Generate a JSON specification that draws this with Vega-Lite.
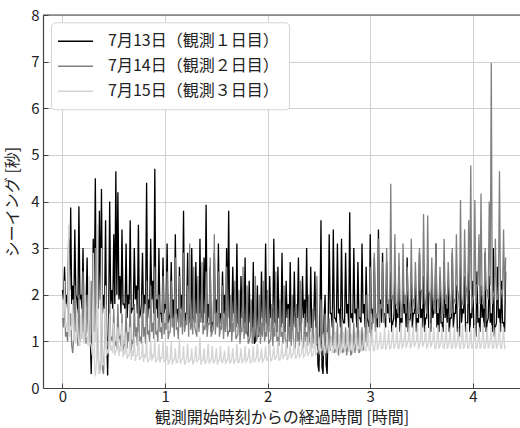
{
"$schema":"https://vega.github.io/schema/vega-lite/v6.json",
"width":477,"height":373,
"autosize":{"type":"none"},
"padding":{"left":43,"top":15,"right":0,"bottom":40},
"background":"white",
"config":{"view":{"stroke":null},"font":"Noto Sans CJK JP",
"axis":{"gridColor":"#d0d0d0","gridWidth":1,"domainColor":"#444","domainWidth":1.2,"tickColor":"#444","tickSize":-5,"labelFontSize":15,"labelColor":"#222","titleFontSize":16,"titleFontWeight":"normal","titleColor":"#222","labelFont":"Noto Sans CJK JP","titleFont":"Noto Sans CJK JP"}},
"data":{"values":[
{"t":0.00,"a":2.1,"b":1.5,"c":1.8},{"t":0.02,"a":2.6,"b":2.0,"c":2.3},{"t":0.04,"a":2.0,"b":1.2,"c":1.4},{"t":0.06,"a":3.2,"b":2.4,"c":3.5},{"t":0.08,"a":3.87,"b":1.6,"c":1.3},
{"t":0.10,"a":2.2,"b":0.75,"c":1.9},{"t":0.12,"a":3.4,"b":2.2,"c":1.1},{"t":0.14,"a":1.9,"b":1.3,"c":1.7},{"t":0.16,"a":3.9,"b":2.0,"c":1.0},{"t":0.18,"a":2.0,"b":1.1,"c":1.6},
{"t":0.20,"a":3.0,"b":2.5,"c":1.2},{"t":0.22,"a":1.7,"b":1.4,"c":2.0},{"t":0.24,"a":2.8,"b":2.0,"c":1.1},{"t":0.26,"a":1.5,"b":1.2,"c":2.4},{"t":0.28,"a":0.3,"b":2.3,"c":0.9},
{"t":0.30,"a":3.2,"b":1.5,"c":2.9},{"t":0.32,"a":4.5,"b":3.0,"c":0.25},{"t":0.34,"a":2.2,"b":1.3,"c":3.5},{"t":0.36,"a":3.8,"b":0.3,"c":0.3},{"t":0.38,"a":4.27,"b":2.4,"c":3.0},
{"t":0.40,"a":2.0,"b":0.3,"c":0.5},{"t":0.42,"a":3.6,"b":1.8,"c":2.2},{"t":0.44,"a":0.27,"b":1.0,"c":0.8},{"t":0.46,"a":4.0,"b":1.9,"c":1.6},{"t":0.48,"a":2.1,"b":1.1,"c":0.9},
{"t":0.50,"a":3.3,"b":1.7,"c":1.4},{"t":0.52,"a":4.65,"b":1.0,"c":0.8},{"t":0.54,"a":4.2,"b":1.8,"c":1.3},{"t":0.56,"a":2.4,"b":1.1,"c":0.9},{"t":0.58,"a":3.4,"b":1.6,"c":1.4},
{"t":0.60,"a":1.8,"b":0.9,"c":0.8},{"t":0.62,"a":3.1,"b":1.7,"c":1.2},{"t":0.64,"a":2.0,"b":1.2,"c":0.7},{"t":0.66,"a":3.6,"b":1.9,"c":1.3},{"t":0.68,"a":1.7,"b":1.0,"c":0.8},
{"t":0.70,"a":3.0,"b":1.8,"c":1.1},{"t":0.72,"a":2.2,"b":1.3,"c":0.7},{"t":0.74,"a":3.5,"b":2.1,"c":1.2},{"t":0.76,"a":1.6,"b":1.1,"c":0.65},{"t":0.78,"a":2.9,"b":2.0,"c":1.0},
{"t":0.80,"a":2.0,"b":1.3,"c":0.7},{"t":0.82,"a":4.4,"b":2.3,"c":1.1},{"t":0.84,"a":1.9,"b":1.2,"c":0.6},{"t":0.86,"a":3.2,"b":2.2,"c":1.0},{"t":0.88,"a":2.3,"b":1.4,"c":0.7},
{"t":0.90,"a":4.7,"b":2.6,"c":1.05},{"t":0.92,"a":1.9,"b":1.2,"c":0.6},{"t":0.94,"a":3.0,"b":2.0,"c":0.95},{"t":0.96,"a":1.6,"b":1.3,"c":0.65},{"t":0.98,"a":2.8,"b":2.4,"c":1.0},
{"t":1.00,"a":1.8,"b":1.4,"c":0.6},{"t":1.02,"a":3.1,"b":2.5,"c":0.9},{"t":1.04,"a":1.5,"b":1.2,"c":0.55},{"t":1.06,"a":2.7,"b":2.3,"c":1.0},{"t":1.08,"a":1.9,"b":1.5,"c":0.6},
{"t":1.10,"a":3.3,"b":2.8,"c":0.85},{"t":1.12,"a":1.7,"b":1.3,"c":0.55},{"t":1.14,"a":2.6,"b":2.4,"c":1.05},{"t":1.16,"a":2.0,"b":1.6,"c":0.6},{"t":1.18,"a":3.8,"b":2.9,"c":0.9},
{"t":1.20,"a":1.6,"b":1.4,"c":0.55},{"t":1.22,"a":2.9,"b":2.2,"c":0.95},{"t":1.24,"a":1.8,"b":3.1,"c":0.6},{"t":1.26,"a":3.0,"b":1.5,"c":0.85},{"t":1.28,"a":1.5,"b":2.6,"c":0.55},
{"t":1.30,"a":2.7,"b":1.2,"c":0.9},{"t":1.32,"a":2.0,"b":2.4,"c":0.6},{"t":1.34,"a":3.2,"b":1.6,"c":1.1},{"t":1.36,"a":1.7,"b":2.7,"c":0.6},{"t":1.38,"a":2.8,"b":1.3,"c":0.85},
{"t":1.40,"a":3.93,"b":2.5,"c":0.55},{"t":1.42,"a":1.8,"b":1.4,"c":0.95},{"t":1.44,"a":2.6,"b":2.8,"c":0.6},{"t":1.46,"a":1.4,"b":1.2,"c":0.9},{"t":1.48,"a":2.9,"b":3.3,"c":0.55},
{"t":1.50,"a":1.9,"b":1.6,"c":0.85},{"t":1.52,"a":3.1,"b":2.5,"c":0.6},{"t":1.54,"a":1.6,"b":1.3,"c":0.9},{"t":1.56,"a":2.5,"b":2.2,"c":0.55},{"t":1.58,"a":2.0,"b":1.5,"c":0.8},
{"t":1.60,"a":3.0,"b":2.6,"c":0.6},{"t":1.62,"a":3.8,"b":1.2,"c":0.9},{"t":1.64,"a":1.5,"b":2.0,"c":0.55},{"t":1.66,"a":2.6,"b":1.4,"c":0.85},{"t":1.68,"a":1.8,"b":2.3,"c":0.6},
{"t":1.70,"a":3.1,"b":1.1,"c":0.95},{"t":1.72,"a":1.4,"b":2.1,"c":0.55},{"t":1.74,"a":2.4,"b":1.3,"c":0.85},{"t":1.76,"a":1.9,"b":2.6,"c":0.6},{"t":1.78,"a":2.8,"b":1.4,"c":0.9},
{"t":1.80,"a":1.2,"b":2.2,"c":0.6},{"t":1.82,"a":2.3,"b":1.0,"c":0.85},{"t":1.84,"a":1.5,"b":1.9,"c":0.55},{"t":1.86,"a":2.7,"b":1.3,"c":0.9},{"t":1.88,"a":1.0,"b":2.4,"c":0.6},
{"t":1.90,"a":2.2,"b":1.1,"c":0.95},{"t":1.92,"a":1.3,"b":2.0,"c":0.6},{"t":1.94,"a":2.5,"b":1.4,"c":0.85},{"t":1.96,"a":1.6,"b":2.3,"c":0.6},{"t":1.98,"a":3.1,"b":1.2,"c":0.9},
{"t":2.00,"a":1.4,"b":2.1,"c":0.65},{"t":2.02,"a":2.4,"b":1.0,"c":0.95},{"t":2.04,"a":1.7,"b":1.8,"c":0.6},{"t":2.06,"a":3.2,"b":1.3,"c":0.9},{"t":2.08,"a":1.5,"b":2.5,"c":0.65},
{"t":2.10,"a":2.6,"b":1.1,"c":1.0},{"t":2.12,"a":1.6,"b":1.9,"c":0.6},{"t":2.14,"a":2.9,"b":1.2,"c":0.95},{"t":2.16,"a":1.4,"b":2.2,"c":0.7},{"t":2.18,"a":2.3,"b":1.0,"c":1.0},
{"t":2.20,"a":1.8,"b":1.7,"c":0.65},{"t":2.22,"a":2.7,"b":1.3,"c":0.95},{"t":2.24,"a":1.3,"b":2.0,"c":0.7},{"t":2.26,"a":2.5,"b":0.9,"c":1.05},{"t":2.28,"a":1.6,"b":1.8,"c":0.65},
{"t":2.30,"a":2.8,"b":1.2,"c":1.0},{"t":2.32,"a":1.4,"b":2.3,"c":0.7},{"t":2.34,"a":2.4,"b":1.0,"c":1.05},{"t":2.36,"a":1.9,"b":1.6,"c":0.7},{"t":2.38,"a":3.0,"b":1.2,"c":1.1},
{"t":2.40,"a":1.5,"b":2.0,"c":0.75},{"t":2.42,"a":2.6,"b":0.9,"c":1.05},{"t":2.44,"a":1.3,"b":1.7,"c":0.7},{"t":2.46,"a":2.5,"b":1.1,"c":1.15},{"t":2.48,"a":1.7,"b":2.4,"c":0.75},
{"t":2.50,"a":0.35,"b":1.0,"c":1.1},{"t":2.52,"a":3.6,"b":1.9,"c":0.8},{"t":2.54,"a":0.3,"b":1.2,"c":1.15},{"t":2.56,"a":2.0,"b":1.6,"c":0.75},{"t":2.58,"a":0.3,"b":0.9,"c":1.2},
{"t":2.60,"a":3.3,"b":1.5,"c":0.8},{"t":2.62,"a":1.6,"b":1.1,"c":1.1},{"t":2.64,"a":3.4,"b":1.7,"c":0.8},{"t":2.66,"a":1.5,"b":0.8,"c":1.2},{"t":2.68,"a":3.1,"b":1.4,"c":0.85},
{"t":2.70,"a":1.7,"b":1.0,"c":1.15},{"t":2.72,"a":3.2,"b":1.6,"c":0.8},{"t":2.74,"a":1.4,"b":0.8,"c":1.2},{"t":2.76,"a":2.9,"b":1.3,"c":0.85},{"t":2.78,"a":1.8,"b":0.9,"c":1.25},
{"t":2.80,"a":3.77,"b":1.5,"c":0.8},{"t":2.82,"a":1.6,"b":0.75,"c":1.15},{"t":2.84,"a":3.0,"b":1.4,"c":0.85},{"t":2.86,"a":1.7,"b":1.0,"c":1.2},{"t":2.88,"a":2.7,"b":1.7,"c":0.8},
{"t":2.90,"a":1.5,"b":0.8,"c":1.25},{"t":2.92,"a":3.1,"b":1.3,"c":0.85},{"t":2.94,"a":1.8,"b":1.0,"c":1.2},{"t":2.96,"a":2.6,"b":2.0,"c":0.8},{"t":2.98,"a":1.4,"b":1.2,"c":1.3},
{"t":3.00,"a":3.3,"b":2.6,"c":0.85},{"t":3.02,"a":1.7,"b":1.4,"c":1.25},{"t":3.04,"a":2.8,"b":2.9,"c":0.8},{"t":3.06,"a":1.5,"b":1.6,"c":1.3},{"t":3.08,"a":3.4,"b":3.2,"c":0.9},
{"t":3.10,"a":1.9,"b":1.8,"c":1.2},{"t":3.12,"a":2.9,"b":2.7,"c":0.85},{"t":3.14,"a":1.6,"b":1.5,"c":1.3},{"t":3.16,"a":2.7,"b":3.0,"c":0.9},{"t":3.18,"a":1.8,"b":1.9,"c":1.25},
{"t":3.20,"a":2.5,"b":4.38,"c":0.85},{"t":3.22,"a":1.4,"b":2.0,"c":1.35},{"t":3.24,"a":2.4,"b":3.3,"c":0.9},{"t":3.26,"a":1.7,"b":1.8,"c":1.3},{"t":3.28,"a":2.6,"b":2.9,"c":0.85},
{"t":3.30,"a":1.5,"b":1.6,"c":1.4},{"t":3.32,"a":2.3,"b":3.1,"c":0.9},{"t":3.34,"a":1.8,"b":2.0,"c":1.3},{"t":3.36,"a":2.8,"b":2.6,"c":0.95},{"t":3.38,"a":1.4,"b":1.7,"c":1.45},
{"t":3.40,"a":2.5,"b":3.2,"c":0.9},{"t":3.42,"a":1.6,"b":1.9,"c":1.35},{"t":3.44,"a":2.2,"b":2.7,"c":0.95},{"t":3.46,"a":1.5,"b":1.6,"c":1.4},{"t":3.48,"a":2.9,"b":3.0,"c":0.9},
{"t":3.50,"a":1.7,"b":2.1,"c":1.5},{"t":3.52,"a":2.4,"b":3.73,"c":0.95},{"t":3.54,"a":1.5,"b":1.8,"c":1.35},{"t":3.56,"a":2.6,"b":3.7,"c":0.9},{"t":3.58,"a":1.3,"b":2.0,"c":1.4},
{"t":3.60,"a":2.3,"b":2.8,"c":0.95},{"t":3.62,"a":1.7,"b":1.7,"c":1.3},{"t":3.64,"a":3.1,"b":3.1,"c":0.85},{"t":3.66,"a":1.6,"b":1.9,"c":1.35},{"t":3.68,"a":2.4,"b":2.6,"c":0.9},
{"t":3.70,"a":1.4,"b":1.6,"c":1.3},{"t":3.72,"a":2.7,"b":3.2,"c":0.85},{"t":3.74,"a":1.8,"b":2.0,"c":1.4},{"t":3.76,"a":2.3,"b":2.7,"c":0.9},{"t":3.78,"a":1.5,"b":1.7,"c":1.3},
{"t":3.80,"a":2.9,"b":3.0,"c":0.85},{"t":3.82,"a":1.6,"b":1.9,"c":1.35},{"t":3.84,"a":2.2,"b":3.3,"c":0.9},{"t":3.86,"a":1.3,"b":2.0,"c":1.3},{"t":3.88,"a":2.6,"b":4.03,"c":0.85},
{"t":3.90,"a":1.7,"b":1.8,"c":1.35},{"t":3.92,"a":2.4,"b":3.4,"c":0.9},{"t":3.94,"a":1.4,"b":2.1,"c":1.4},{"t":3.96,"a":2.8,"b":3.6,"c":0.85},{"t":3.98,"a":1.6,"b":4.77,"c":1.3},
{"t":4.00,"a":2.3,"b":1.9,"c":0.9},{"t":4.02,"a":1.3,"b":4.03,"c":1.35},{"t":4.04,"a":2.5,"b":2.2,"c":0.85},{"t":4.06,"a":1.5,"b":3.3,"c":1.3},{"t":4.08,"a":2.2,"b":4.17,"c":0.9},
{"t":4.10,"a":1.8,"b":1.8,"c":1.4},{"t":4.12,"a":2.9,"b":3.0,"c":0.85},{"t":4.14,"a":1.4,"b":2.1,"c":1.3},{"t":4.16,"a":2.4,"b":4.0,"c":0.9},{"t":4.18,"a":1.6,"b":6.97,"c":1.35},
{"t":4.20,"a":3.0,"b":2.0,"c":0.85},{"t":4.22,"a":1.3,"b":3.2,"c":1.3},{"t":4.24,"a":2.6,"b":1.9,"c":0.9},{"t":4.26,"a":1.7,"b":4.65,"c":1.4},{"t":4.28,"a":2.3,"b":2.1,"c":0.85},
{"t":4.30,"a":1.4,"b":3.4,"c":1.3},{"t":4.32,"a":2.5,"b":2.8,"c":0.9},
{"t":0.01,"a":1.9,"b":1.3,"c":1.5},{"t":0.03,"a":1.8,"b":1.1,"c":1.3},{"t":0.05,"a":1.7,"b":1.0,"c":1.2},{"t":0.07,"a":2.1,"b":1.3,"c":1.1},{"t":0.09,"a":1.8,"b":0.9,"c":1.25},
{"t":0.11,"a":1.6,"b":1.1,"c":1.0},{"t":0.13,"a":2.0,"b":1.2,"c":0.95},{"t":0.15,"a":1.6,"b":0.9,"c":1.15},{"t":0.17,"a":1.9,"b":1.0,"c":0.9},{"t":0.19,"a":1.7,"b":1.2,"c":1.05},
{"t":0.21,"a":1.5,"b":1.1,"c":0.95},{"t":0.23,"a":1.8,"b":0.95,"c":1.1},{"t":0.25,"a":1.4,"b":1.2,"c":0.9},{"t":0.27,"a":1.2,"b":1.0,"c":1.0},{"t":0.29,"a":1.6,"b":1.15,"c":0.7},
{"t":0.31,"a":1.9,"b":1.2,"c":0.6},{"t":0.33,"a":1.8,"b":1.0,"c":0.5},{"t":0.35,"a":1.7,"b":0.6,"c":0.4},{"t":0.37,"a":1.9,"b":0.5,"c":0.6},{"t":0.39,"a":1.6,"b":0.4,"c":0.5},
{"t":0.41,"a":1.7,"b":0.9,"c":0.6},{"t":0.43,"a":1.2,"b":0.8,"c":0.7},{"t":0.45,"a":1.5,"b":0.9,"c":0.75},{"t":0.47,"a":1.8,"b":1.0,"c":0.8},{"t":0.49,"a":1.7,"b":1.0,"c":0.75},
{"t":0.51,"a":1.8,"b":0.9,"c":0.7},{"t":0.53,"a":2.0,"b":0.85,"c":0.8},{"t":0.55,"a":1.9,"b":1.05,"c":0.68},{"t":0.57,"a":1.6,"b":0.9,"c":0.78},{"t":0.59,"a":1.8,"b":0.8,"c":0.66},
{"t":0.61,"a":1.7,"b":0.95,"c":0.72},{"t":0.63,"a":1.5,"b":0.85,"c":0.62},{"t":0.65,"a":1.8,"b":1.0,"c":0.7},{"t":0.67,"a":1.6,"b":0.8,"c":0.6},{"t":0.69,"a":1.7,"b":0.95,"c":0.68},
{"t":0.71,"a":1.9,"b":1.1,"c":0.58},{"t":0.73,"a":1.6,"b":0.9,"c":0.7},{"t":0.75,"a":1.5,"b":1.0,"c":0.6},{"t":0.77,"a":1.8,"b":0.95,"c":0.66},{"t":0.79,"a":1.6,"b":1.1,"c":0.56},
{"t":0.81,"a":1.8,"b":0.95,"c":0.65},{"t":0.83,"a":1.5,"b":1.15,"c":0.55},{"t":0.85,"a":1.7,"b":1.0,"c":0.63},{"t":0.87,"a":1.9,"b":1.2,"c":0.58},{"t":0.89,"a":1.6,"b":1.05,"c":0.66},
{"t":0.91,"a":1.7,"b":1.15,"c":0.55},{"t":0.93,"a":1.5,"b":1.0,"c":0.62},{"t":0.95,"a":1.6,"b":1.2,"c":0.54},{"t":0.97,"a":1.4,"b":1.05,"c":0.64},{"t":0.99,"a":1.6,"b":1.15,"c":0.55},
{"t":1.01,"a":1.7,"b":1.25,"c":0.6},{"t":1.03,"a":1.4,"b":1.05,"c":0.52},{"t":1.05,"a":1.6,"b":1.2,"c":0.63},{"t":1.07,"a":1.5,"b":1.3,"c":0.5},{"t":1.09,"a":1.3,"b":1.1,"c":0.6},
{"t":1.11,"a":1.6,"b":1.25,"c":0.54},{"t":1.13,"a":1.4,"b":1.05,"c":0.66},{"t":1.15,"a":1.7,"b":1.3,"c":0.52},{"t":1.17,"a":1.5,"b":1.15,"c":0.61},{"t":1.19,"a":1.3,"b":1.2,"c":0.5},
{"t":1.21,"a":1.6,"b":1.35,"c":0.64},{"t":1.23,"a":1.4,"b":1.1,"c":0.54},{"t":1.25,"a":1.3,"b":1.25,"c":0.6},{"t":1.27,"a":1.5,"b":1.15,"c":0.52},{"t":1.29,"a":1.4,"b":1.3,"c":0.66},
{"t":1.31,"a":1.6,"b":1.1,"c":0.55},{"t":1.33,"a":1.3,"b":1.2,"c":0.62},{"t":1.35,"a":1.5,"b":1.4,"c":0.5},{"t":1.37,"a":1.4,"b":1.15,"c":0.6},{"t":1.39,"a":1.6,"b":1.25,"c":0.53},
{"t":1.41,"a":1.3,"b":1.1,"c":0.65},{"t":1.43,"a":1.5,"b":1.35,"c":0.52},{"t":1.45,"a":1.2,"b":1.1,"c":0.6},{"t":1.47,"a":1.4,"b":1.25,"c":0.54},{"t":1.49,"a":1.6,"b":1.15,"c":0.63},
{"t":1.51,"a":1.4,"b":1.3,"c":0.5},{"t":1.53,"a":1.3,"b":1.1,"c":0.6},{"t":1.55,"a":1.5,"b":1.25,"c":0.55},{"t":1.57,"a":1.6,"b":1.05,"c":0.66},{"t":1.59,"a":1.3,"b":1.2,"c":0.52},
{"t":1.61,"a":1.5,"b":1.1,"c":0.6},{"t":1.63,"a":1.2,"b":1.25,"c":0.54},{"t":1.65,"a":1.4,"b":1.0,"c":0.64},{"t":1.67,"a":1.6,"b":1.2,"c":0.52},{"t":1.69,"a":1.3,"b":1.05,"c":0.6},
{"t":1.71,"a":1.4,"b":1.15,"c":0.55},{"t":1.73,"a":1.2,"b":0.95,"c":0.65},{"t":1.75,"a":1.5,"b":1.2,"c":0.53},{"t":1.77,"a":1.3,"b":1.05,"c":0.6},{"t":1.79,"a":1.2,"b":1.15,"c":0.56},
{"t":1.81,"a":1.1,"b":0.95,"c":0.66},{"t":1.83,"a":1.4,"b":1.1,"c":0.54},{"t":1.85,"a":1.2,"b":0.95,"c":0.62},{"t":1.87,"a":0.95,"b":1.1,"c":0.55},{"t":1.89,"a":1.3,"b":1.0,"c":0.65},
{"t":1.91,"a":1.1,"b":1.15,"c":0.57},{"t":1.93,"a":1.3,"b":0.95,"c":0.64},{"t":1.95,"a":1.5,"b":1.1,"c":0.56},{"t":1.97,"a":1.2,"b":1.0,"c":0.66},{"t":1.99,"a":1.4,"b":1.1,"c":0.58},
{"t":2.01,"a":1.2,"b":0.95,"c":0.68},{"t":2.03,"a":1.5,"b":1.05,"c":0.58},{"t":2.05,"a":1.3,"b":0.9,"c":0.7},{"t":2.07,"a":1.4,"b":1.1,"c":0.6},{"t":2.09,"a":1.2,"b":1.0,"c":0.7},
{"t":2.11,"a":1.5,"b":0.9,"c":0.6},{"t":2.13,"a":1.3,"b":1.1,"c":0.72},{"t":2.15,"a":1.4,"b":0.95,"c":0.62},{"t":2.17,"a":1.2,"b":1.05,"c":0.7},{"t":2.19,"a":1.5,"b":0.85,"c":0.6},
{"t":2.21,"a":1.3,"b":1.0,"c":0.72},{"t":2.23,"a":1.2,"b":0.9,"c":0.63},{"t":2.25,"a":1.4,"b":1.05,"c":0.74},{"t":2.27,"a":1.3,"b":0.85,"c":0.64},{"t":2.29,"a":1.5,"b":1.0,"c":0.72},
{"t":2.31,"a":1.2,"b":0.9,"c":0.66},{"t":2.33,"a":1.4,"b":1.05,"c":0.75},{"t":2.35,"a":1.5,"b":0.85,"c":0.66},{"t":2.37,"a":1.3,"b":1.0,"c":0.76},{"t":2.39,"a":1.4,"b":0.9,"c":0.68},
{"t":2.41,"a":1.2,"b":1.0,"c":0.78},{"t":2.43,"a":1.3,"b":0.85,"c":0.68},{"t":2.45,"a":1.5,"b":0.95,"c":0.8},{"t":2.47,"a":1.3,"b":0.9,"c":0.7},{"t":2.49,"a":0.5,"b":0.95,"c":0.8},
{"t":2.51,"a":1.6,"b":0.85,"c":0.72},{"t":2.53,"a":0.45,"b":1.0,"c":0.82},{"t":2.55,"a":1.5,"b":0.9,"c":0.72},{"t":2.57,"a":0.5,"b":0.8,"c":0.84},{"t":2.59,"a":1.4,"b":0.95,"c":0.74},
{"t":2.61,"a":1.6,"b":0.8,"c":0.85},{"t":2.63,"a":1.3,"b":0.9,"c":0.75},{"t":2.65,"a":1.5,"b":0.75,"c":0.86},{"t":2.67,"a":1.4,"b":0.85,"c":0.76},{"t":2.69,"a":1.6,"b":0.7,"c":0.88},
{"t":2.71,"a":1.3,"b":0.85,"c":0.76},{"t":2.73,"a":1.5,"b":0.75,"c":0.9},{"t":2.75,"a":1.4,"b":0.9,"c":0.77},{"t":2.77,"a":1.6,"b":0.7,"c":0.88},{"t":2.79,"a":1.3,"b":0.85,"c":0.78},
{"t":2.81,"a":1.5,"b":0.7,"c":0.9},{"t":2.83,"a":1.4,"b":0.85,"c":0.78},{"t":2.85,"a":1.6,"b":0.75,"c":0.92},{"t":2.87,"a":1.3,"b":0.9,"c":0.8},{"t":2.89,"a":1.5,"b":0.75,"c":0.9},
{"t":2.91,"a":1.4,"b":0.85,"c":0.78},{"t":2.93,"a":1.6,"b":0.8,"c":0.92},{"t":2.95,"a":1.3,"b":1.0,"c":0.8},{"t":2.97,"a":1.5,"b":0.9,"c":0.94},{"t":2.99,"a":1.3,"b":1.2,"c":0.8},
{"t":3.01,"a":1.6,"b":1.1,"c":0.95},{"t":3.03,"a":1.4,"b":1.4,"c":0.82},{"t":3.05,"a":1.5,"b":1.2,"c":0.96},{"t":3.07,"a":1.3,"b":1.5,"c":0.82},{"t":3.09,"a":1.6,"b":1.3,"c":0.98},
{"t":3.11,"a":1.4,"b":1.7,"c":0.84},{"t":3.13,"a":1.5,"b":1.4,"c":0.96},{"t":3.15,"a":1.3,"b":1.6,"c":0.82},{"t":3.17,"a":1.6,"b":1.8,"c":0.98},{"t":3.19,"a":1.4,"b":1.5,"c":0.84},
{"t":3.21,"a":1.2,"b":1.9,"c":1.0},{"t":3.23,"a":1.5,"b":1.6,"c":0.84},{"t":3.25,"a":1.3,"b":1.8,"c":0.98},{"t":3.27,"a":1.5,"b":1.6,"c":0.85},{"t":3.29,"a":1.2,"b":1.9,"c":1.0},
{"t":3.31,"a":1.4,"b":1.5,"c":0.86},{"t":3.33,"a":1.6,"b":1.8,"c":1.02},{"t":3.35,"a":1.3,"b":1.6,"c":0.86},{"t":3.37,"a":1.2,"b":2.0,"c":1.0},{"t":3.39,"a":1.5,"b":1.6,"c":0.85},
{"t":3.41,"a":1.3,"b":1.9,"c":1.02},{"t":3.43,"a":1.6,"b":1.7,"c":0.88},{"t":3.45,"a":1.2,"b":2.0,"c":1.0},{"t":3.47,"a":1.4,"b":1.6,"c":0.86},{"t":3.49,"a":1.5,"b":2.1,"c":1.04},
{"t":3.51,"a":1.3,"b":1.8,"c":0.88},{"t":3.53,"a":1.2,"b":2.0,"c":1.02},{"t":3.55,"a":1.5,"b":1.6,"c":0.86},{"t":3.57,"a":1.3,"b":2.1,"c":1.0},{"t":3.59,"a":1.2,"b":1.7,"c":0.87},
{"t":3.61,"a":1.5,"b":2.0,"c":1.02},{"t":3.63,"a":1.6,"b":1.6,"c":0.85},{"t":3.65,"a":1.3,"b":1.9,"c":1.0},{"t":3.67,"a":1.2,"b":1.7,"c":0.84},{"t":3.69,"a":1.4,"b":2.0,"c":1.02},
{"t":3.71,"a":1.2,"b":1.6,"c":0.86},{"t":3.73,"a":1.5,"b":1.9,"c":1.0},{"t":3.75,"a":1.4,"b":1.7,"c":0.84},{"t":3.77,"a":1.2,"b":2.1,"c":1.02},{"t":3.79,"a":1.5,"b":1.6,"c":0.86},
{"t":3.81,"a":1.3,"b":1.9,"c":1.0},{"t":3.83,"a":1.6,"b":1.8,"c":0.85},{"t":3.85,"a":1.2,"b":2.1,"c":1.02},{"t":3.87,"a":1.1,"b":1.7,"c":0.86},{"t":3.89,"a":1.4,"b":2.0,"c":1.0},
{"t":3.91,"a":1.6,"b":1.8,"c":0.84},{"t":3.93,"a":1.2,"b":2.2,"c":1.02},{"t":3.95,"a":1.4,"b":1.8,"c":0.86},{"t":3.97,"a":1.2,"b":2.1,"c":1.0},{"t":3.99,"a":1.5,"b":1.7,"c":0.85},
{"t":4.01,"a":1.3,"b":2.0,"c":1.02},{"t":4.03,"a":1.1,"b":1.8,"c":0.86},{"t":4.05,"a":1.4,"b":2.2,"c":1.0},{"t":4.07,"a":1.2,"b":1.8,"c":0.84},{"t":4.09,"a":1.5,"b":2.0,"c":1.02},
{"t":4.11,"a":1.3,"b":1.7,"c":0.86},{"t":4.13,"a":1.2,"b":2.1,"c":1.0},{"t":4.15,"a":1.5,"b":1.9,"c":0.85},{"t":4.17,"a":1.4,"b":2.2,"c":1.02},{"t":4.19,"a":1.2,"b":1.8,"c":0.86},
{"t":4.21,"a":1.1,"b":2.1,"c":1.0},{"t":4.23,"a":1.4,"b":1.9,"c":0.84},{"t":4.25,"a":1.5,"b":2.2,"c":1.02},{"t":4.27,"a":1.2,"b":1.9,"c":0.86},{"t":4.29,"a":1.4,"b":2.1,"c":1.0},
{"t":4.31,"a":1.2,"b":1.9,"c":0.86}
]},
"layer":[
{"transform":[{"fold":["a","b","c"],"as":["s","v"]}],
 "mark":{"type":"line","strokeWidth":1.3,"clip":true},
 "encoding":{
  "x":{"field":"t","type":"quantitative","scale":{"domain":[-0.19,4.46],"nice":false,"zero":false},
       "axis":{"values":[0,1,2,3,4],"format":"d","title":"観測開始時刻からの経過時間 [時間]","labelPadding":6,"titlePadding":5}},
  "y":{"field":"v","type":"quantitative","scale":{"domain":[0,8],"nice":false},
       "axis":{"values":[0,1,2,3,4,5,6,7,8],"format":"d","title":"シーイング [秒]","labelPadding":9,"titlePadding":10}},
  "color":{"field":"s","type":"nominal","scale":{"domain":["a","b","c"],"range":["#000000","#808080","#d3d3d3"]},
       "legend":{"title":null,"orient":"none","legendX":8,"legendY":7.3,"direction":"vertical",
         "labelExpr":"datum.value == 'a' ? '7月13日（観測１日目）' : datum.value == 'b' ? '7月14日（観測２日目）' : '7月15日（観測３日目）'",
         "symbolType":"M-2.19,0H2.19","symbolSize":256,"symbolStrokeWidth":1.5,"symbolOffset":5.5,"labelFontSize":16,"labelFont":"Noto Sans CJK JP","labelColor":"#222","labelOffset":23.5,"labelLimit":0,
         "rowPadding":8,"padding":10,"fillColor":"white","strokeColor":"#d5d5d5","cornerRadius":4}}
 }},
{"data":{"values":[{}]},"mark":{"type":"rule","color":"#444","strokeWidth":1.2},"encoding":{"y":{"datum":8}}}
]
}
